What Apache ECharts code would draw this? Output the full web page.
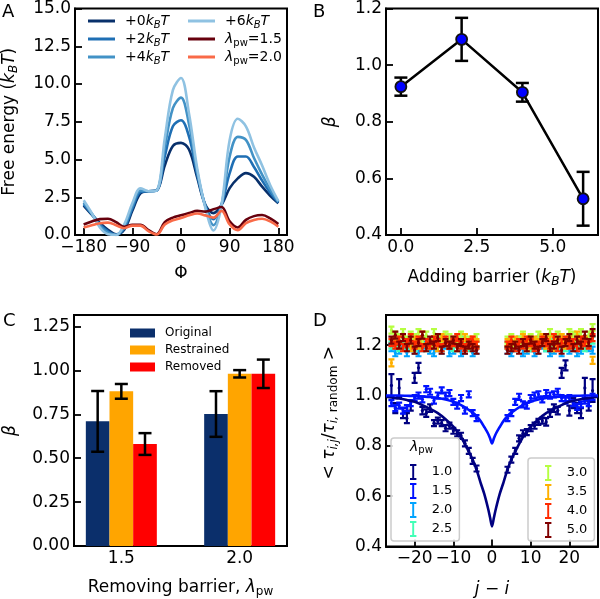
<!DOCTYPE html>
<html><head><meta charset="utf-8">
<script src="https://cdn.jsdelivr.net/npm/echarts@6/dist/echarts.min.js"></script>
<style>html,body{margin:0;padding:0;background:#fff}#c{width:600px;height:599px}</style>
</head><body><div id="c"></div>
<script>
const FF = 'DejaVu Sans';

// ---------- Panel A: free energy profiles ----------
const phiDeg = [-180,-165,-150,-135,-120,-105,-90,-75,-60,-45,-30,-15,0,15,30,45,60,75,90,105,120,135,150,165,180];
const fePlus0 = [1.95,1.35,0.8,0.35,0.05,0.35,1.6,2.75,2.9,2.95,4.6,5.9,6.1,5.65,3.8,2.0,1.45,2.0,3.1,3.75,4.1,3.85,3.2,2.6,2.1];
const fePlus2 = [2.05,1.4,0.7,0.25,0.02,0.45,1.75,2.85,2.9,2.95,5.2,7.2,7.6,6.5,4.0,1.95,1.05,2.0,4.1,5.2,5.2,4.5,3.6,2.8,2.15];
const fePlus4 = [2.15,1.4,0.6,0.15,0.0,0.55,1.9,2.95,2.9,2.95,5.8,8.4,9.1,7.3,4.2,1.9,0.65,2.0,5.2,6.5,6.3,5.1,4.0,3.0,2.2];
const fePlus6 = [2.3,1.45,0.5,0.05,0.0,0.7,2.1,3.1,2.9,2.95,6.4,9.6,10.4,8.0,4.4,1.8,0.3,2.0,6.3,7.7,7.2,5.8,4.6,3.3,2.25];
const feLam15 = [0.7,0.9,1.05,1.08,0.85,0.55,0.68,0.68,0.32,0.05,0.85,1.15,1.3,1.45,1.6,1.55,1.7,1.85,0.9,0.5,1.0,1.25,1.32,1.1,0.72];
const feLam20 = [0.5,0.65,0.78,0.82,0.65,0.45,0.62,0.62,0.25,0.03,0.7,0.98,1.12,1.3,1.42,1.3,1.15,1.6,0.7,0.32,0.78,1.0,1.08,0.9,0.55];
const phiTicks = [-180,-90,0,90,180];
const feTicks = [0,2.5,5,7.5,10,12.5,15];

// ---------- Panel B ----------
const barrierKT = [0,2,4,6];
const betaB = [0.924,1.091,0.904,0.528];
const betaBErr = [0.032,0.076,0.033,0.095];
const bXTicks = [0,2.5,5];
const bYTicks = [0.4,0.6,0.8,1.0,1.2];

// ---------- Panel C ----------
const lambdaC = [1.5,2.0];
const betaOriginal = [0.71,0.752];
const betaOriginalErr = [0.173,0.13];
const betaRestrained = [0.881,0.981];
const betaRestrainedErr = [0.042,0.021];
const betaRemoved = [0.581,0.981];
const betaRemovedErr = [0.062,0.081];
const cYTicks = [0,0.25,0.5,0.75,1.0,1.25];

// ---------- Panel D ----------
const sepD = [-26,-25,-24,-23,-22,-21,-20,-19,-18,-17,-16,-15,-14,-13,-12,-11,-10,-9,-8,-7,-6,-5,-4,
              4,5,6,7,8,9,10,11,12,13,14,15,16,17,18,19,20,21,22,23,24,25,26];
const tauL10 = [1.04,0.95,1.03,0.93,0.91,0.96,1.07,1.11,0.94,0.93,0.95,0.89,0.90,0.89,0.87,0.88,0.86,0.85,0.84,0.81,0.78,0.74,0.71,
                0.705,0.745,0.78,0.83,0.85,0.855,0.87,0.88,0.895,0.90,0.895,0.93,0.95,0.94,1.09,1.12,0.94,0.97,0.95,0.93,1.03,0.96,1.02];
const errL10 = [0.045,0.02,0.035,0.02,0.02,0.02,0.02,0.02,0.015,0.015,0.015,0.012,0.012,0.012,0.012,0.012,0.012,0.012,0.012,0.012,0.012,0.012,0.012,
                0.012,0.012,0.012,0.012,0.012,0.012,0.012,0.012,0.012,0.012,0.015,0.015,0.015,0.015,0.02,0.02,0.02,0.02,0.02,0.02,0.04,0.02,0.045];
const tauL15 = [0.97,0.95,0.96,0.94,0.95,0.97,0.99,1.0,0.985,1.025,1.015,0.98,1.0,1.02,1.0,1.01,0.975,0.96,0.99,0.94,1.005,0.93,0.91,
                0.91,0.93,0.975,0.995,0.965,0.96,0.99,1.0,1.005,0.985,1.01,1.0,1.005,1.015,0.99,0.98,0.99,0.97,0.955,0.965,0.98,0.97,0.995];
const errL15 = 0.012;
const tauL20 = [1.19,1.17,1.18,1.2,1.17,1.19,1.18,1.17,1.19,1.2,1.18,1.17,1.19,1.18,1.2,1.17,1.18,1.19,1.17,1.18,1.2,1.17,1.18,
                1.18,1.17,1.19,1.2,1.17,1.18,1.19,1.17,1.18,1.2,1.19,1.17,1.18,1.19,1.17,1.2,1.18,1.19,1.17,1.18,1.2,1.19,1.18];
const tauL25 = [1.2,1.21,1.19,1.22,1.2,1.21,1.19,1.2,1.22,1.19,1.21,1.2,1.22,1.19,1.21,1.2,1.19,1.21,1.22,1.2,1.19,1.21,1.2,
                1.2,1.21,1.19,1.22,1.2,1.21,1.19,1.2,1.22,1.21,1.19,1.2,1.21,1.22,1.2,1.19,1.21,1.2,1.22,1.21,1.19,1.2,1.22];
const tauL30 = [1.26,1.24,1.23,1.25,1.22,1.24,1.23,1.25,1.22,1.24,1.21,1.25,1.23,1.22,1.24,1.23,1.21,1.22,1.24,1.23,1.22,1.21,1.23,
                1.22,1.23,1.21,1.22,1.24,1.22,1.23,1.21,1.24,1.22,1.23,1.25,1.22,1.24,1.23,1.22,1.25,1.24,1.23,1.25,1.22,1.24,1.27];
const tauL35 = [1.13,1.22,1.2,1.23,1.21,1.19,1.22,1.2,1.24,1.21,1.2,1.22,1.19,1.23,1.21,1.2,1.22,1.19,1.21,1.23,1.2,1.22,1.21,
                1.21,1.2,1.22,1.21,1.23,1.19,1.2,1.22,1.21,1.23,1.2,1.22,1.19,1.21,1.23,1.2,1.22,1.21,1.24,1.2,1.22,1.21,1.14];
const tauL40 = [1.21,1.2,1.22,1.19,1.21,1.23,1.2,1.22,1.19,1.21,1.2,1.22,1.21,1.19,1.22,1.2,1.21,1.23,1.2,1.19,1.21,1.22,1.2,
                1.2,1.22,1.19,1.21,1.2,1.22,1.21,1.19,1.2,1.22,1.21,1.2,1.23,1.19,1.21,1.22,1.2,1.21,1.19,1.22,1.21,1.2,1.23];
const tauL50 = [1.22,1.24,1.2,1.23,1.19,1.22,1.18,1.21,1.24,1.19,1.22,1.2,1.23,1.18,1.21,1.2,1.22,1.19,1.21,1.18,1.2,1.19,1.18,
                1.18,1.19,1.2,1.18,1.21,1.19,1.22,1.2,1.18,1.21,1.23,1.19,1.2,1.22,1.18,1.21,1.23,1.19,1.22,1.2,1.24,1.21,1.25];
const errHighLambda = [0.014,0.014,0.014,0.014,0.014,0.014];
const fitX = [-27.4,-26,-24,-22,-20,-18,-16,-14,-12,-10,-8,-6,-5,-4,-3,-2,-1,-0.5,0,0.5,1,2,3,4,5,6,8,10,12,14,16,18,20,22,24,26,27.4];
const fitL10 = [0.995,0.992,0.988,0.982,0.975,0.962,0.947,0.93,0.906,0.876,0.835,0.777,0.745,0.706,0.656,0.609,0.55,0.515,0.48,0.515,0.55,0.609,0.656,0.706,0.745,0.777,0.835,0.876,0.906,0.93,0.947,0.962,0.975,0.982,0.988,0.992,0.995];
const fitL15 = [1.0,1.0,1.0,0.999,0.998,0.996,0.994,0.99,0.984,0.975,0.962,0.943,0.932,0.918,0.9,0.875,0.848,0.83,0.81,0.83,0.848,0.875,0.9,0.918,0.932,0.943,0.962,0.975,0.984,0.99,0.994,0.996,0.998,0.999,1.0,1.0,1.0];
const dXTicks = [-20,-10,0,10,20];
const dYTicks = [0.4,0.6,0.8,1.0,1.2];
const lambdaLabels = ['1.0','1.5','2.0','2.5','3.0','3.5','4.0','5.0'];

// ---------- helpers ----------
const zip = (xs, ys) => xs.map((x, i) => [x, ys[i]]);
const zip3 = (xs, ys, es) => xs.map((x, i) => [x, ys[i], Array.isArray(es) ? es[i] : es]);
const minus = v => (v < 0 ? '\u2212' + Math.abs(v) : String(v));

function errbarItem(color, capHalf, lw, dotR) {
  return function (params, api) {
    const x = api.value(0), y = api.value(1), e = api.value(2);
    const hi = api.coord([x, y + e]), lo = api.coord([x, y - e]);
    const st = () => ({ stroke: color, lineWidth: lw });
    const ch = [
      { type: 'line', shape: { x1: hi[0], y1: hi[1], x2: lo[0], y2: lo[1] }, style: st() },
      { type: 'line', shape: { x1: hi[0] - capHalf, y1: hi[1], x2: hi[0] + capHalf, y2: hi[1] }, style: st() },
      { type: 'line', shape: { x1: lo[0] - capHalf, y1: lo[1], x2: lo[0] + capHalf, y2: lo[1] }, style: st() }
    ];
    if (dotR) {
      const c = api.coord([x, y]);
      ch.push({ type: 'circle', shape: { cx: c[0], cy: c[1], r: dotR }, style: { fill: color } });
    }
    return { type: 'group', children: ch };
  };
}
function barItem(color, halfW) {
  return function (params, api) {
    const x = api.value(0), v = api.value(1);
    const p1 = api.coord([x - halfW, v]), p2 = api.coord([x + halfW, 0]);
    return { type: 'rect', shape: { x: p1[0], y: p1[1], width: p2[0] - p1[0], height: p2[1] - p1[1] }, style: { fill: color } };
  };
}

const richBase = {
  n: { fontFamily: FF, fontSize: 17, lineHeight: 20, color: '#000' },
  i: { fontFamily: FF, fontSize: 17, lineHeight: 20, fontStyle: 'italic', color: '#000' },
  s: { fontFamily: FF, fontSize: 12, lineHeight: 12, fontStyle: 'italic', verticalAlign: 'bottom', color: '#000' },
  r: { fontFamily: FF, fontSize: 12, lineHeight: 12, verticalAlign: 'bottom', color: '#000' }
};

function axis(gi, o) {
  return Object.assign({
    type: 'value', gridIndex: gi, nameLocation: 'middle',
    axisLine: { show: true, onZero: false, lineStyle: { color: '#000', width: 2 } },
    splitLine: { show: false },
    nameTextStyle: { fontFamily: FF, fontSize: 17, color: '#000', rich: richBase }
  }, o);
}
function lbl(vals, fmt) {
  return { customValues: vals, formatter: fmt, color: '#000', fontSize: 17, fontFamily: FF, margin: 4 };
}
function ticks(vals) {
  return { show: true, inside: true, length: 7, customValues: vals, lineStyle: { color: '#000', width: 1.8 } };
}

const gridBox = { show: true, borderColor: '#000', borderWidth: 2, backgroundColor: 'transparent' };

const blues = ['#08306b', '#1f6fb4', '#4292c6', '#8fc2e2'];
const reds = ['#67000d', '#f96a48'];
const jet = ['#000080', '#0012ff', '#00a4ff', '#41ffb6', '#b6ff41', '#ffb000', '#ff2a00', '#800000'];
const barColors = ['#0b2f6b', '#ffa500', '#ff0000'];

const series = [];
// Panel A
[[fePlus0, 'a0', blues[0]], [fePlus2, 'a2', blues[1]], [fePlus4, 'a4', blues[2]], [fePlus6, 'a6', blues[3]],
 [feLam15, 'l15', reds[0]], [feLam20, 'l20', reds[1]]].forEach(([ys, nm, col]) => {
  series.push({ type: 'line', name: nm, xAxisIndex: 0, yAxisIndex: 0, data: zip(phiDeg, ys), smooth: 0.35,
    showSymbol: false, lineStyle: { color: col, width: 2.6 }, itemStyle: { color: col }, z: 2 });
});
// Panel B
series.push({ type: 'custom', name: 'errB', xAxisIndex: 1, yAxisIndex: 1, data: zip3(barrierKT, betaB, betaBErr),
  renderItem: errbarItem('#000', 6.5, 2.5, 0), encode: { x: 0, y: 1 }, z: 2 });
series.push({ type: 'line', name: 'betaB', xAxisIndex: 1, yAxisIndex: 1, data: zip(barrierKT, betaB),
  symbol: 'circle', symbolSize: 11, lineStyle: { color: '#000', width: 2.5 },
  itemStyle: { color: '#0000ff', borderColor: '#111', borderWidth: 1.8 }, z: 3 });
// Panel C
const cOffsets = [-0.1, 0, 0.1];
[['Original', betaOriginal, betaOriginalErr], ['Restrained', betaRestrained, betaRestrainedErr], ['Removed', betaRemoved, betaRemovedErr]]
  .forEach(([nm, vals, errs], k) => {
    const xs = lambdaC.map(v => v + cOffsets[k]);
    series.push({ type: 'custom', name: nm, xAxisIndex: 2, yAxisIndex: 2, data: zip(xs, vals),
      renderItem: barItem(barColors[k], 0.05), encode: { x: 0, y: 1 }, itemStyle: { color: barColors[k] }, z: 2 });
    series.push({ type: 'custom', name: 'err' + nm, xAxisIndex: 2, yAxisIndex: 2, data: zip3(xs, vals, errs),
      renderItem: errbarItem('#000', 6.5, 2.5, 0), encode: { x: 0, y: 1 }, z: 3 });
  });
// Panel D
const highSets = [tauL20, tauL25, tauL30, tauL35, tauL40, tauL50];
const allD = [[tauL10, errL10], [tauL15, errL15]].concat(highSets.map((ys, k) => [ys, errHighLambda[k]]));
allD.forEach(([ys, es], k) => {
  series.push({ type: 'custom', name: lambdaLabels[k], xAxisIndex: 3, yAxisIndex: 3, data: zip3(sepD, ys, es),
    renderItem: errbarItem(jet[k], 3, 2.2, 1.6), encode: { x: 0, y: 1 }, itemStyle: { color: jet[k] }, clip: true, z: 2 });
});
series.push({ type: 'line', name: 'fit10', xAxisIndex: 3, yAxisIndex: 3, data: zip(fitX, fitL10), smooth: 0.3,
  showSymbol: false, lineStyle: { color: jet[0], width: 2.6 }, z: 3 });
series.push({ type: 'line', name: 'fit15', xAxisIndex: 3, yAxisIndex: 3, data: zip(fitX, fitL15), smooth: 0.3,
  showSymbol: false, lineStyle: { color: jet[1], width: 2.6 }, z: 3 });

const legRich = {
  n: { fontFamily: FF, fontSize: 14, lineHeight: 18, color: '#000' },
  p: { fontFamily: FF, fontSize: 14, lineHeight: 18, color: '#000', padding: [0, 0, 0, 5] },
  i: { fontFamily: FF, fontSize: 14, lineHeight: 18, fontStyle: 'italic', color: '#000' },
  s: { fontFamily: FF, fontSize: 10, lineHeight: 10, fontStyle: 'italic', verticalAlign: 'bottom', color: '#000' },
  r: { fontFamily: FF, fontSize: 10, lineHeight: 10, verticalAlign: 'bottom', color: '#000' }
};
const legNames = {
  a0: '{p|+0}{i|k}{s|B}{i|T}', a2: '{p|+2}{i|k}{s|B}{i|T}', a4: '{p|+4}{i|k}{s|B}{i|T}', a6: '{p|+6}{i|k}{s|B}{i|T}',
  l15: '{p|}{i|λ}{r|pw}{n|=1.5}', l20: '{p|}{i|λ}{r|pw}{n|=2.0}'
};
const iconI = 'path://M0,0H8V2.4H5.2V17.6H8V20H0V17.6H2.8V2.4H0Z';
const dLegBase = {
  orient: 'vertical', itemWidth: 7, itemHeight: 16, itemGap: 3, icon: iconI,
  borderColor: '#cccccc', borderWidth: 1.5, borderRadius: 3, backgroundColor: 'rgba(255,255,255,0.85)',
  formatter: n => '{p|' + n + '}',
  textStyle: { rich: { p: { fontFamily: FF, fontSize: 13, lineHeight: 16, color: '#000', padding: [0, 0, 0, 10] } } },
  selectedMode: false, z: 10
};

const option = {
  animation: false,
  backgroundColor: '#fff',
  grid: [
    Object.assign({ left: 75, top: 5, width: 212, height: 230 }, gridBox),
    Object.assign({ left: 386, top: 5, width: 212, height: 230 }, gridBox),
    Object.assign({ left: 74, top: 315, width: 213, height: 232 }, gridBox),
    Object.assign({ left: 386, top: 315, width: 212, height: 232 }, gridBox)
  ],
  xAxis: [
    axis(0, { min: -196, max: 196, name: 'Φ', nameGap: 30, axisLabel: lbl(phiTicks, minus), axisTick: ticks(phiTicks) }),
    axis(1, { min: -0.49, max: 6.49, name: '{n|Adding barrier (}{i|k}{s|B}{i|T}{n|)}', nameGap: 33,
      axisLabel: lbl(bXTicks, v => v.toFixed(1)), axisTick: ticks(bXTicks) }),
    axis(2, { min: 1.3, max: 2.2, name: '{n|Removing barrier, }{i|λ}{r|pw}', nameGap: 32,
      axisLabel: lbl(lambdaC, v => v.toFixed(1)), axisTick: ticks(lambdaC) }),
    axis(3, { min: -27.4, max: 27.4, name: '{i|j}{n| − }{i|i}', nameGap: 33,
      axisLabel: lbl(dXTicks, minus), axisTick: ticks(dXTicks) })
  ],
  yAxis: [
    axis(0, { min: 0, max: 15, name: '{n|Free energy (}{i|k}{s|B}{i|T}{n|)}', nameGap: 55,
      axisLabel: lbl(feTicks, v => v.toFixed(1)), axisTick: ticks(feTicks) }),
    axis(1, { min: 0.4, max: 1.2, name: '{i|β}', nameGap: 45,
      axisLabel: lbl(bYTicks, v => v.toFixed(1)), axisTick: ticks(bYTicks) }),
    axis(2, { min: 0, max: 1.316, name: '{i|β}', nameGap: 53,
      axisLabel: lbl(cYTicks, v => v.toFixed(2)), axisTick: ticks(cYTicks) }),
    axis(3, { min: 0.4, max: 1.32, name: '{n|< }{i|τ}{s|i,j}{n|/}{i|τ}{s|i,}{r| random}{n| >}', nameGap: 46,
      nameTextStyle: { fontFamily: FF, fontSize: 17, color: '#000', rich: richBase, padding: [0, 0, 0, 36] },
      axisLabel: lbl(dYTicks, v => v.toFixed(1)), axisTick: ticks(dYTicks) })
  ],
  legend: [
    { data: ['a0', 'a2', 'a4'], left: 88, top: 14, orient: 'vertical', icon: 'rect', itemWidth: 27, itemHeight: 3,
      itemGap: 2, padding: 0, selectedMode: false, formatter: n => legNames[n], textStyle: { rich: legRich } },
    { data: ['a6', 'l15', 'l20'], left: 188, top: 14, orient: 'vertical', icon: 'rect', itemWidth: 27, itemHeight: 3,
      itemGap: 2, padding: 0, selectedMode: false, formatter: n => legNames[n], textStyle: { rich: legRich } },
    { data: ['Original', 'Restrained', 'Removed'], left: 130, top: 327, orient: 'vertical', icon: 'rect',
      itemWidth: 25, itemHeight: 9, itemGap: 5, padding: 0, selectedMode: false,
      formatter: n => '{p|' + n + '}',
      textStyle: { rich: { p: { fontFamily: FF, fontSize: 12, lineHeight: 14, color: '#000', padding: [0, 0, 0, 5] } } } },
    Object.assign({ data: lambdaLabels.slice(0, 4), left: 391, top: 438, padding: [26, 7, 4, 19] }, dLegBase),
    Object.assign({ data: lambdaLabels.slice(4), left: 528, top: 458, padding: [7, 7, 3, 17] }, dLegBase)
  ],
  graphic: [
    { type: 'text', left: 2, top: 3, style: { text: 'A', fontSize: 18, fontFamily: FF, fill: '#000' } },
    { type: 'text', left: 313, top: 3, style: { text: 'B', fontSize: 18, fontFamily: FF, fill: '#000' } },
    { type: 'text', left: 3, top: 312, style: { text: 'C', fontSize: 18, fontFamily: FF, fill: '#000' } },
    { type: 'text', left: 313, top: 312, style: { text: 'D', fontSize: 18, fontFamily: FF, fill: '#000' } },
    { type: 'text', left: 410, top: 440, z: 100, style: { text: '{i|λ}{r|pw}', rich: {
        i: { fontFamily: FF, fontSize: 14, lineHeight: 17, fontStyle: 'italic', fill: '#000' },
        r: { fontFamily: FF, fontSize: 10, lineHeight: 10, verticalAlign: 'bottom', fill: '#000' } } } }
  ],
  series: series
};
const chart = echarts.init(document.getElementById('c'), null, { renderer: 'canvas' });
chart.setOption(option);
</script>
</body></html>
